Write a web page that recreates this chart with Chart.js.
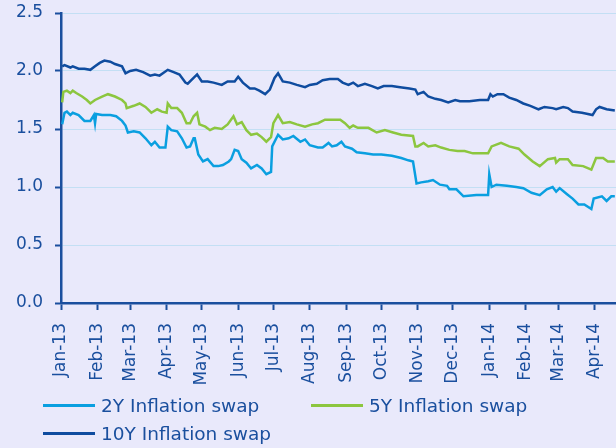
<!DOCTYPE html>
<html>
<head>
<meta charset="utf-8">
<script src="https://cdn.jsdelivr.net/npm/chart.js@4"></script>
<style>
  html, body { margin: 0; padding: 0; background: #e9e9fb; }
  #wrap { position: relative; width: 616px; height: 448px; }
  #legend { position: absolute; left: 0; top: 0; width: 616px; height: 448px; pointer-events: none; }
  .item { position: absolute; height: 24px; display: flex; align-items: center;
          font: 18.5px "DejaVu Sans", sans-serif; color: #1a4f9e; white-space: nowrap; }
  .swatch { display: inline-block; width: 52px; height: 3px; margin-right: 6px; }
</style>
</head>
<body>
<div id="wrap">
  <canvas id="chart" width="616" height="448"></canvas>
  <div id="legend"></div>
</div>
<script>
// Month ticks: days since 1 Jan 2013
const tickDays = [0, 31, 59, 90, 120, 151, 181, 212, 243, 273, 304, 334, 365, 396, 424, 455];
const tickLabels = ['Jan-13', 'Feb-13', 'Mar-13', 'Apr-13', 'May-13', 'Jun-13', 'Jul-13', 'Aug-13',
  'Sep-13', 'Oct-13', 'Nov-13', 'Dec-13', 'Jan-14', 'Feb-14', 'Mar-14', 'Apr-14'];

const seriesNames = ['2Y Inflation swap', '5Y Inflation swap', '10Y Inflation swap'];
const seriesColors = ['#0a9fe0', '#8cc63f', '#0f4c9f'];

// 2Y
const days2Y = [1,3,5,8,10,15,20,25,28,29,30,35,42,47,52,55,57,62,67,72,77,80,84,89,91,94,99,103,107,110,
  113,114,117,121,125,130,134,138,143,145,148,151,154,158,162,167,171,175,179,180,185,189,194,198,204,208,212,
  219,223,228,231,235,239,242,248,252,259,266,273,282,290,296,300,303,307,313,317,323,329,331,337,343,354,364,
  365,367,371,380,388,394,401,408,414,419,422,425,431,436,441,446,452,454,461,465,469,472];
const vals2Y = [1.54,1.64,1.65,1.62,1.64,1.62,1.57,1.57,1.62,1.55,1.63,1.62,1.62,1.61,1.57,1.53,1.47,1.48,1.47,1.42,
  1.36,1.39,1.34,1.34,1.52,1.49,1.48,1.42,1.34,1.35,1.42,1.42,1.28,1.22,1.24,1.18,1.18,1.19,1.22,1.24,
  1.32,1.31,1.24,1.21,1.16,1.19,1.16,1.11,1.13,1.35,1.45,1.41,1.42,1.44,1.39,1.41,1.36,1.34,1.34,1.38,
  1.35,1.36,1.39,1.35,1.33,1.30,1.29,1.28,1.28,1.27,1.25,1.23,1.22,1.03,1.04,1.05,1.06,1.02,1.01,0.98,
  0.98,0.92,0.93,0.93,1.11,1.00,1.02,1.01,1.00,0.99,0.95,0.93,0.98,1.00,0.96,0.99,0.94,0.90,0.85,0.85,
  0.81,0.90,0.92,0.88,0.92,0.92];

// 5Y
const days5Y = [1,2,5,8,10,13,18,22,25,29,35,40,46,52,55,56,62,67,72,77,82,86,90,91,94,99,103,107,110,113,
  116,118,123,127,131,137,142,147,150,154,158,162,167,171,175,179,181,185,189,195,201,208,214,219,225,231,238,
  242,246,249,253,262,269,276,283,290,300,302,304,309,313,319,324,331,338,344,351,364,367,375,382,390,395,402,
  408,415,421,422,425,432,436,445,452,456,462,466,472];
const vals5Y = [1.73,1.82,1.83,1.81,1.83,1.81,1.78,1.75,1.72,1.75,1.78,1.80,1.78,1.75,1.72,1.68,1.70,1.72,1.69,1.64,
  1.67,1.65,1.64,1.72,1.68,1.68,1.64,1.55,1.55,1.61,1.64,1.54,1.52,1.49,1.51,1.50,1.54,1.61,1.54,1.56,
  1.49,1.45,1.46,1.43,1.39,1.43,1.55,1.62,1.55,1.56,1.54,1.52,1.54,1.55,1.58,1.58,1.58,1.55,1.51,1.53,
  1.51,1.51,1.47,1.49,1.47,1.45,1.44,1.35,1.35,1.38,1.35,1.36,1.34,1.32,1.31,1.31,1.29,1.29,1.35,1.38,
  1.35,1.33,1.28,1.22,1.18,1.24,1.25,1.21,1.24,1.24,1.19,1.18,1.15,1.25,1.25,1.22,1.22];

// 10Y
const days10Y = [1,3,8,10,15,20,25,29,33,37,42,46,52,55,59,64,70,76,80,84,91,96,101,106,108,113,116,120,125,130,
  137,142,148,151,155,161,165,169,174,178,182,185,189,195,201,208,212,218,223,229,236,240,245,249,253,259,265,
  270,275,282,289,297,302,304,309,313,319,324,330,336,340,348,357,364,366,368,372,377,382,388,394,400,407,412,
  419,422,428,432,436,444,449,453,456,459,465,472];
const vals10Y = [2.04,2.05,2.03,2.04,2.02,2.02,2.01,2.04,2.07,2.09,2.08,2.06,2.04,1.98,2.00,2.01,1.99,1.96,1.97,1.96,
  2.01,1.99,1.97,1.90,1.89,1.94,1.97,1.91,1.91,1.90,1.88,1.91,1.91,1.95,1.90,1.85,1.85,1.83,1.80,1.84,
  1.94,1.98,1.91,1.90,1.88,1.86,1.88,1.89,1.92,1.93,1.93,1.90,1.88,1.90,1.87,1.89,1.87,1.85,1.87,1.87,
  1.86,1.85,1.84,1.80,1.82,1.78,1.76,1.75,1.73,1.75,1.74,1.74,1.75,1.75,1.80,1.78,1.80,1.80,1.77,1.75,
  1.72,1.70,1.67,1.69,1.68,1.67,1.69,1.68,1.65,1.64,1.63,1.62,1.67,1.69,1.67,1.66];

const axisColor = '#1a4f9e';
const gridColor = '#c3dff4';

function toPoints(days, vals) {
  return days.map((d, i) => ({ x: d, y: vals[i] }));
}

function makeDataset(i, days, vals) {
  return {
    label: seriesNames[i],
    data: toPoints(days, vals),
    borderColor: seriesColors[i],
    borderWidth: 2.5,
    pointRadius: 0,
    fill: false,
    tension: 0
  };
}

const ctx = document.getElementById('chart').getContext('2d');
new Chart(ctx, {
  type: 'line',
  data: {
    datasets: [
      makeDataset(2, days10Y, vals10Y),
      makeDataset(1, days5Y, vals5Y),
      makeDataset(0, days2Y, vals2Y)
    ]
  },
  options: {
    responsive: false,
    animation: false,
    layout: { padding: { top: 13, left: 0, right: 0, bottom: 0 } },
    plugins: { legend: { display: false }, tooltip: { enabled: false } },
    scales: {
      x: {
        type: 'linear',
        min: 0,
        max: 473,
        afterBuildTicks: scale => { scale.ticks = tickDays.map(v => ({ value: v })); },
        afterFit: scale => {
          scale.height = 145;
          scale.paddingLeft = 0;
          scale.paddingRight = 0;
        },
        ticks: {
          autoSkip: false,
          minRotation: 90,
          maxRotation: 90,
          padding: 13,
          color: axisColor,
          font: { family: 'DejaVu Sans', size: 17 },
          callback: value => tickLabels[tickDays.indexOf(value)]
        },
        grid: { drawOnChartArea: false, drawTicks: true, tickLength: 7, tickColor: axisColor, tickWidth: 2 },
        border: { display: true, color: axisColor, width: 2.5 }
      },
      y: {
        min: 0,
        max: 2.5,
        afterFit: scale => {
          scale.width = 61;
          scale.paddingTop = 0;
          scale.paddingBottom = 0;
        },
        ticks: {
          stepSize: 0.5,
          padding: 12,
          color: axisColor,
          font: { family: 'DejaVu Sans', size: 17 },
          callback: value => value.toFixed(1)
        },
        grid: { color: gridColor, lineWidth: 1, drawTicks: true, tickLength: 6, tickColor: axisColor, tickWidth: 2 },
        border: { display: true, color: axisColor, width: 2.5 }
      }
    }
  }
});

// Legend laid out like the original: two columns, two rows
const legendPos = [[43, 393], [311, 393], [43, 421]];
const legend = document.getElementById('legend');
seriesNames.forEach((name, i) => {
  const item = document.createElement('div');
  item.className = 'item';
  item.style.left = legendPos[i][0] + 'px';
  item.style.top = legendPos[i][1] + 'px';
  const sw = document.createElement('span');
  sw.className = 'swatch';
  sw.style.background = seriesColors[i];
  item.appendChild(sw);
  item.appendChild(document.createTextNode(name));
  legend.appendChild(item);
});
</script>
</body>
</html>
